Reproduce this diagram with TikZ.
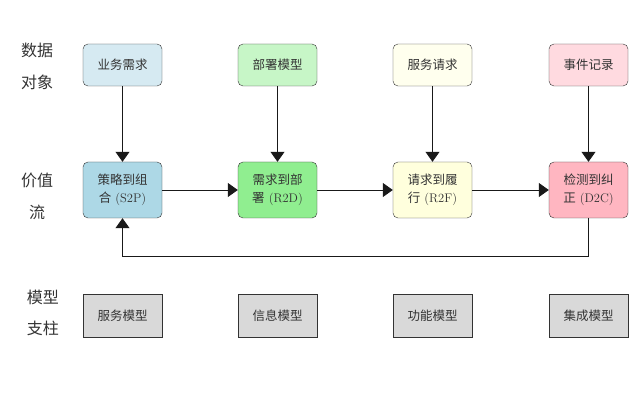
\documentclass[tikz,border=0pt]{standalone}
\usepackage{fontspec}
\newfontfamily\cjk{Noto Sans CJK SC}
\usetikzlibrary{arrows.meta}
\definecolor{topblue}{HTML}{D6EAF2}
\definecolor{midblue}{HTML}{ADD8E6}
\definecolor{topgreen}{HTML}{C7F6C7}
\definecolor{midgreen}{HTML}{90EE90}
\definecolor{topyellow}{HTML}{FFFFEE}
\definecolor{midyellow}{HTML}{FFFFDD}
\definecolor{toppink}{HTML}{FFDAE0}
\definecolor{midpink}{HTML}{FFB6C1}
\definecolor{pillar}{HTML}{D9D9D9}
\begin{document}
\begin{tikzpicture}[x=1pt,y=-1pt,
  topbox/.style={draw=black!80, rounded corners=5pt, minimum width=79pt, minimum height=42pt, inner sep=0pt, font=\fontsize{12.5}{14}\selectfont, text=black!80},
  midbox/.style={draw=black!80, rounded corners=5pt, minimum width=79pt, minimum height=56pt, inner sep=0pt, align=center, font=\fontsize{12.5}{18}\selectfont, text=black!80},
  pillarbox/.style={draw=black!80, fill=pillar, minimum width=79pt, minimum height=43pt, inner sep=0pt, font=\fontsize{12.5}{14}\selectfont, text=black!80},
  lbl/.style={font=\fontsize{16}{18}\selectfont\cjk, text=black!80, inner sep=0pt},
  arr/.style={-{Triangle[width=14pt,length=10pt]}, thick, black!90}]
\useasboundingbox (0,0) rectangle (638,417);
% left labels
\node[lbl] (l1) at (37,50) {数据};
\node[lbl] (l2) at (37,82) {对象};
\node[lbl] (l3) at (37,180) {价值};
\node[lbl] (l4) at (37,212) {流};
\node[lbl] (l5) at (43,297) {模型};
\node[lbl] (l6) at (43,328) {支柱};
% top data objects
\node[topbox, fill=topblue] (t1) at (122.5,65) {\cjk 业务需求};
\node[topbox, fill=topgreen] (t2) at (277.5,65) {\cjk 部署模型};
\node[topbox, fill=topyellow] (t3) at (432.5,65) {\cjk 服务请求};
\node[topbox, fill=toppink] (t4) at (588.5,65) {\cjk 事件记录};
% value streams
\node[midbox, fill=midblue] (m1) at (122.5,190) {{\cjk 策略到组}\\{\cjk 合} (S2P)};
\node[midbox, fill=midgreen] (m2) at (277.5,190) {{\cjk 需求到部}\\{\cjk 署} (R2D)};
\node[midbox, fill=midyellow] (m3) at (432.5,190) {{\cjk 请求到履}\\{\cjk 行} (R2F)};
\node[midbox, fill=midpink] (m4) at (588.5,190) {{\cjk 检测到纠}\\{\cjk 正} (D2C)};
% pillars
\node[pillarbox] (p1) at (122.5,316) {\cjk 服务模型};
\node[pillarbox] (p2) at (277.5,316) {\cjk 信息模型};
\node[pillarbox] (p3) at (432.5,316) {\cjk 功能模型};
\node[pillarbox] (p4) at (588.5,316) {\cjk 集成模型};
% arrows
\draw[arr] (t1) -- (m1);
\draw[arr] (t2) -- (m2);
\draw[arr] (t3) -- (m3);
\draw[arr] (t4) -- (m4);
\draw[arr] (m1) -- (m2);
\draw[arr] (m2) -- (m3);
\draw[arr] (m3) -- (m4);
\coordinate (fb) at (0,256);
\draw[arr] (m4.south) |- (fb -| m1.south) -- (m1.south);
\end{tikzpicture}
\end{document}
